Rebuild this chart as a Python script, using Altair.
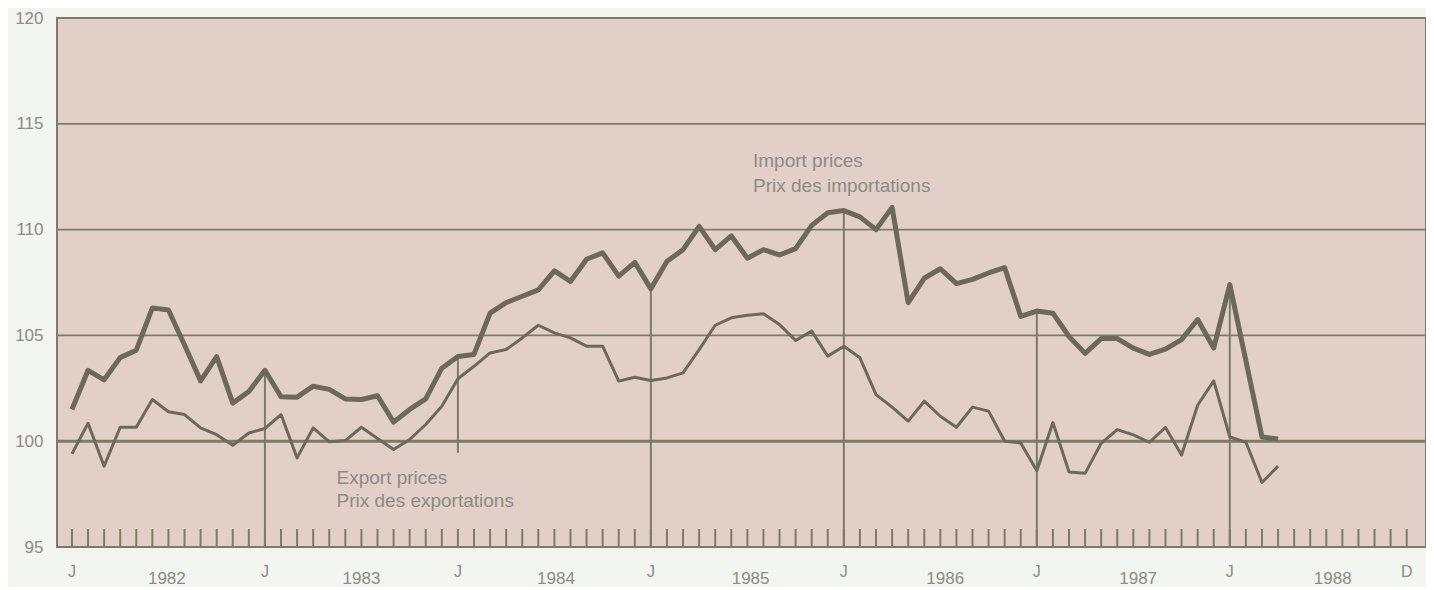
import altair as alt
import pandas as pd

# Monthly indices, Jan 1982 = month 0
import_prices = [
    101.5, 103.35, 102.9, 103.95, 104.3, 106.3, 106.2, 104.55, 102.85, 104.0, 101.8, 102.35,
    103.35, 102.1, 102.08, 102.6, 102.45, 102.0, 101.97, 102.15, 100.9, 101.5, 102.0, 103.45,
    104.0, 104.1, 106.05, 106.55, 106.85, 107.15, 108.05, 107.55, 108.6, 108.9, 107.8, 108.45,
    107.2, 108.5, 109.05, 110.15, 109.05, 109.7, 108.65, 109.05, 108.8, 109.1, 110.2, 110.8,
    110.9, 110.6, 110.0, 111.05, 106.55, 107.7, 108.15, 107.45, 107.65, 107.95, 108.2, 105.9,
    106.15, 106.05, 104.95, 104.15, 104.85, 104.85, 104.4, 104.1, 104.35, 104.8, 105.75, 104.4,
    107.4, 103.8, 100.2, 100.1,
]
export_prices = [
    99.4, 100.85, 98.82, 100.66, 100.66, 101.97, 101.39, 101.26, 100.63, 100.31, 99.81, 100.39,
    100.6, 101.26, 99.21, 100.63, 99.97, 100.03, 100.66, 100.13, 99.61, 100.08, 100.79, 101.65,
    102.95, 103.54, 104.17, 104.33, 104.88, 105.48, 105.12, 104.88, 104.49, 104.49, 102.84, 103.02,
    102.87, 102.99, 103.23, 104.33, 105.48, 105.83, 105.95, 106.02, 105.51, 104.76, 105.2, 104.02,
    104.49, 103.94, 102.2, 101.61, 100.95, 101.89, 101.18, 100.66, 101.61, 101.42, 100.0, 99.92,
    98.6, 100.88, 98.55, 98.48, 99.9, 100.55, 100.3, 99.95, 100.65, 99.35, 101.7, 102.85,
    100.2, 99.95, 98.05, 98.82,
]
y_tick_values = [95, 100, 105, 110, 115, 120]
grid_values = [105, 110, 115]
base_value = [100]
tick_months = list(range(84))
jan_months = [12, 24, 36, 48, 60, 72]
drop_bottoms = [95, 99.45, 95, 95, 95, 95]
month_labels = ["J", "J", "J", "J", "J", "J", "J", "D"]
month_label_months = [0, 12, 24, 36, 48, 60, 72, 83]
years = ["1982", "1983", "1984", "1985", "1986", "1987", "1988"]
year_label_months = [5.9, 18.0, 30.1, 42.2, 54.3, 66.3, 78.4]
annotations = ["Import prices", "Prix des importations", "Export prices", "Prix des exportations"]
annotation_month = [42.35, 42.35, 16.45, 16.45]
annotation_value = [112.95, 111.8, 97.97, 96.88]

W, H = 1369, 529
LINE = "#6c685c"
GRID = "#7c7b69"
TEXT = "#8c8b84"
FONT = "Liberation Sans"

xs = alt.Scale(domain=[-0.93, 84.2], nice=False, zero=False)
ys = alt.Scale(domain=[95, 120], nice=False, zero=False)

n = len(import_prices)
series = pd.DataFrame({
    "m": list(range(n)) * 2,
    "v": import_prices + export_prices,
    "s": ["Import"] * n + ["Export"] * n,
})
imp = series[series.s == "Import"]
exp_ = series[series.s == "Export"]

drops = pd.DataFrame({
    "m": jan_months,
    "top": [import_prices[m] for m in jan_months],
    "bottom": drop_bottoms,
})
ticks = pd.DataFrame({"m": tick_months, "a": 95, "b": 95.85})
grid = pd.DataFrame({"v": grid_values})
base = pd.DataFrame({"v": base_value})
mlab = pd.DataFrame({"m": month_label_months, "t": month_labels})
ylab = pd.DataFrame({"m": year_label_months, "t": years})
ann = pd.DataFrame({"m": annotation_month, "v": annotation_value, "t": annotations})

yaxis = alt.Axis(values=y_tick_values, grid=False, domain=False, ticks=False,
                 labelPadding=14, labelFontSize=17, labelColor=TEXT, labelFont=FONT,
                 title=None, labelFlush=False)

grid_layer = alt.Chart(grid).mark_rule(color=GRID, strokeWidth=1.8).encode(
    y=alt.Y("v:Q", scale=ys, axis=yaxis))
base_layer = alt.Chart(base).mark_rule(color=GRID, strokeWidth=3).encode(
    y=alt.Y("v:Q", scale=ys))
tick_layer = alt.Chart(ticks).mark_rule(color=GRID, strokeWidth=2).encode(
    x=alt.X("m:Q", scale=xs, axis=None), y=alt.Y("a:Q", scale=ys), y2="b:Q")
drop_layer = alt.Chart(drops).mark_rule(color=GRID, strokeWidth=2).encode(
    x=alt.X("m:Q", scale=xs, axis=None), y=alt.Y("top:Q", scale=ys), y2="bottom:Q")
exp_layer = alt.Chart(exp_).mark_line(color=LINE, strokeWidth=3, strokeJoin="round").encode(
    x=alt.X("m:Q", scale=xs, axis=None), y=alt.Y("v:Q", scale=ys))
imp_layer = alt.Chart(imp).mark_line(color=LINE, strokeWidth=5, strokeJoin="round").encode(
    x=alt.X("m:Q", scale=xs, axis=None), y=alt.Y("v:Q", scale=ys))
mlab_layer = alt.Chart(mlab).mark_text(font=FONT, fontSize=16, color=TEXT, baseline="middle").encode(
    x=alt.X("m:Q", scale=xs, axis=None), y=alt.value(H + 25), text="t:N")
ylab_layer = alt.Chart(ylab).mark_text(font=FONT, fontSize=17, color=TEXT, baseline="middle").encode(
    x=alt.X("m:Q", scale=xs, axis=None), y=alt.value(H + 32), text="t:N")
ann_layer = alt.Chart(ann).mark_text(font=FONT, fontSize=19, color=TEXT, align="left",
                                     baseline="alphabetic").encode(
    x=alt.X("m:Q", scale=xs, axis=None), y=alt.Y("v:Q", scale=ys), text="t:N")

chart = alt.layer(
    grid_layer, base_layer, tick_layer, drop_layer, exp_layer, imp_layer,
    mlab_layer, ylab_layer, ann_layer,
).properties(
    width=W, height=H,
    autosize=alt.AutoSizeParams(type="none"),
    padding={"left": 49, "top": 10, "right": 0, "bottom": 40},
    background="#f3f5f1",
).configure_view(
    fill="#e2d0c8", stroke=GRID, strokeWidth=2,
)

chart.save("out.html", embed_options={"renderer": "svg", "actions": False})
